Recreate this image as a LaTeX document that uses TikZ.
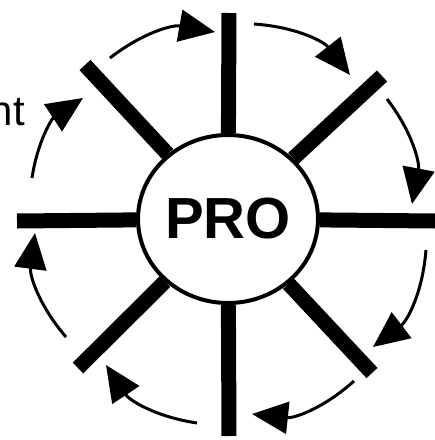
\documentclass[tikz,border=0pt]{standalone}
\usepackage{fontspec}
\setmainfont{Liberation Sans}
\usetikzlibrary{arrows.meta,shapes.geometric}

\tikzset{
  spoke/.style={line width=15pt},
  cyclearrow/.style={line width=3pt,-{Triangle[length=36pt,width=32pt]},bend left=24},
}

\begin{document}
\begin{tikzpicture}[x=1pt,y=-1pt]
  \useasboundingbox (0,0) rectangle (435,440);
  \node[ellipse,draw,line width=4pt,fill=white,minimum width=180pt,minimum height=168pt,inner sep=0pt,font=\fontsize{58}{60}\selectfont\bfseries] (pro) at (228,219) {PRO};
  \coordinate (top) at (229,13);
  \coordinate (topright) at (382,76);
  \coordinate (right) at (435,221);
  \coordinate (botright) at (372,373);
  \coordinate (bottom) at (229,436);
  \coordinate (botleft) at (78,368);
  \coordinate (left) at (17,221);
  \coordinate (topleft) at (85,65);
  \foreach \e in {top,topright,right,botright,bottom,botleft,left,topleft}
    \draw[spoke] (pro) -- (\e);
  \coordinate (s1) at (254,24);  \coordinate (e1) at (350,75);
  \coordinate (s2) at (387,99);  \coordinate (e2) at (412,204);
  \coordinate (s3) at (426,250); \coordinate (e3) at (373,347);
  \coordinate (s4) at (354,381); \coordinate (e4) at (252,414);
  \coordinate (s5) at (197,423); \coordinate (e5) at (106,365);
  \coordinate (s6) at (66,337);  \coordinate (e6) at (35,233);
  \coordinate (s7) at (32,178);  \coordinate (e7) at (83,98);
  \coordinate (s8) at (110,58);  \coordinate (e8) at (215,32);
  \foreach \i in {1,...,8}
    \draw[cyclearrow] (s\i) to (e\i);
  \node[anchor=base east,inner sep=0pt,font=\fontsize{42}{42}\selectfont] (cut) at (25,125) {nt};
\end{tikzpicture}
\end{document}
